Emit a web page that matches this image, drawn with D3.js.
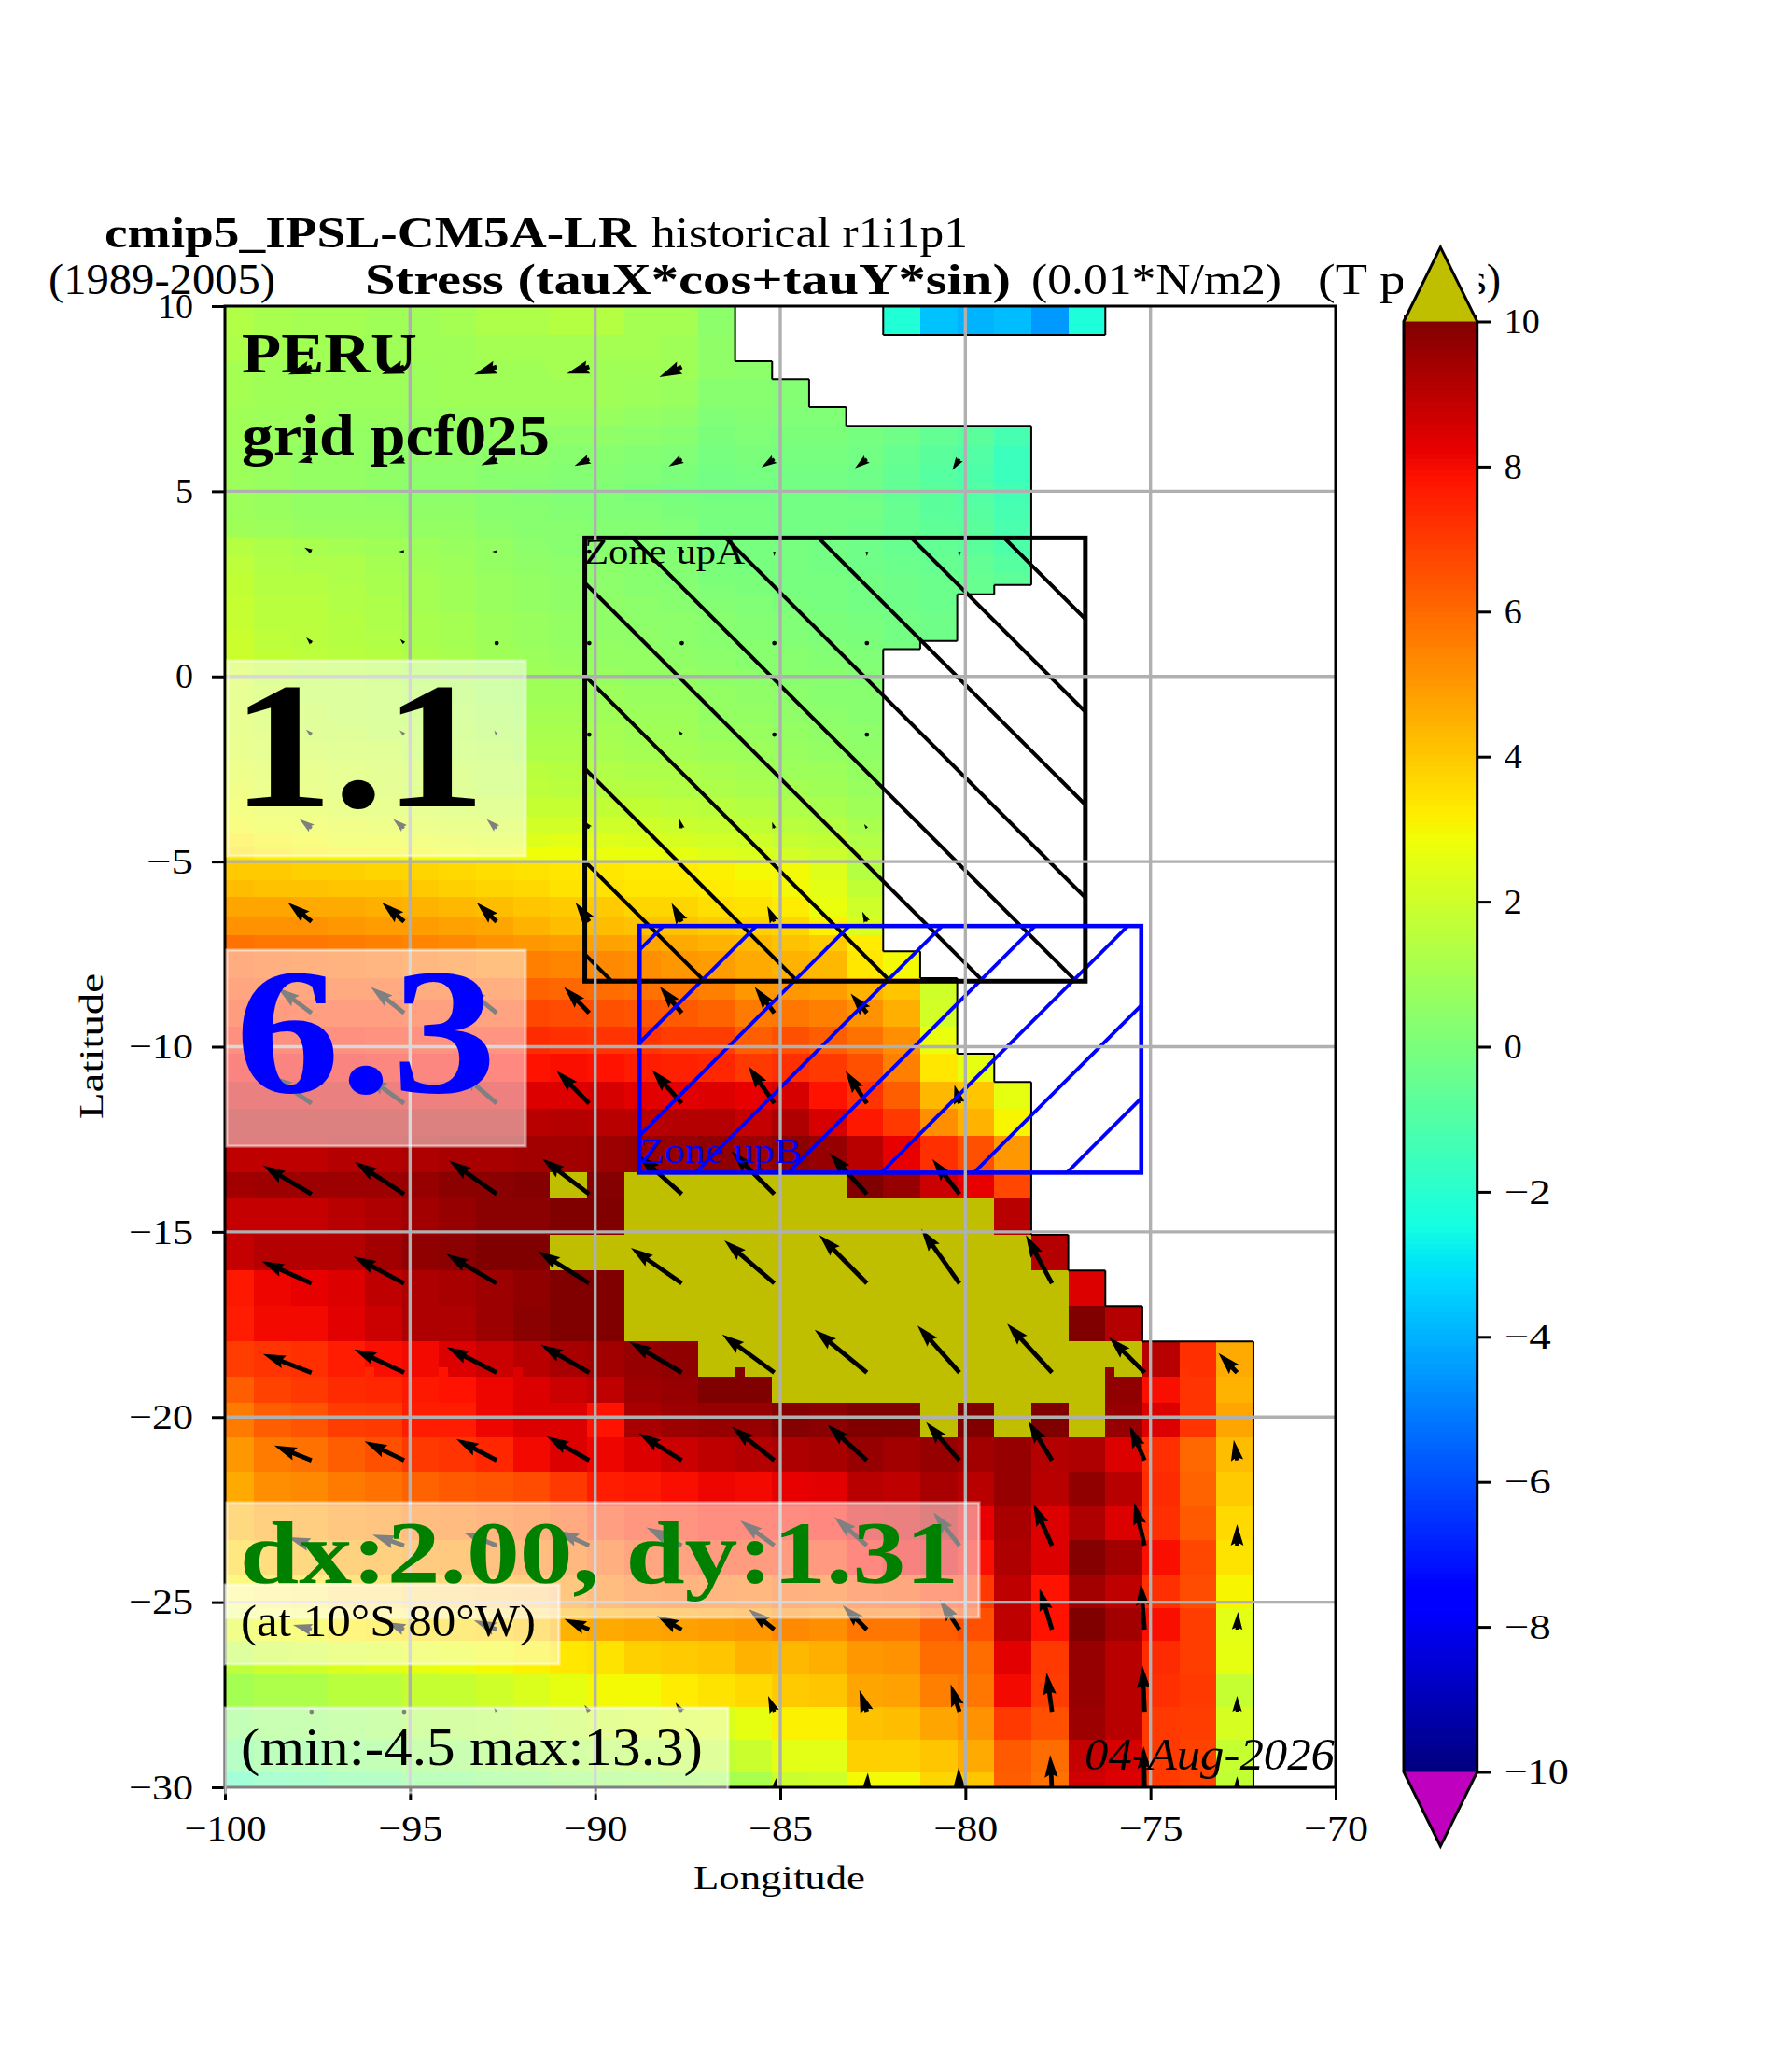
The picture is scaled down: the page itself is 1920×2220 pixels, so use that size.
<!DOCTYPE html>
<html>
<head>
<meta charset="utf-8">
<title>PERU stress map</title>
<script src="https://cdn.jsdelivr.net/npm/d3@7"></script>
<style>
  html, body { margin: 0; padding: 0; background: #fff; }
  svg { display: block; }
  text { font-family: "Liberation Serif", "DejaVu Serif", serif; }
</style>
</head>
<body>
<svg id="chart" width="1920" height="2220"></svg>
<script>
// Cell edges of the model grid
const lonEdges = [-100,-99.22,-98.22,-97.22,-96.22,-95.22,-94.22,-93.22,-92.22,-91.22,-90.22,-89.22,-88.22,-87.22,-86.22,-85.22,-84.22,-83.22,-82.22,-81.22,-80.22,-79.22,-78.22,-77.22,-76.22,-75.22,-74.22,-73.22,-72.22];
const latEdges = [10,9.22,8.51,8.03,7.28,6.77,6.22,5.71,5.21,4.71,4.25,3.75,3.27,2.77,2.47,2.22,1.76,1.25,.96,.74,.24,-.26,-.76,-1.27,-1.77,-2.28,-2.78,-3.28,-3.79,-4.24,-4.62,-5,-5.5,-5.96,-6.49,-7,-7.42,-8.15,-8.73,-9.46,-10.19,-10.95,-11.68,-12.41,-13.39,-14.1,-15.08,-16.04,-17,-17.96,-18.91,-19.62,-20.55,-21.48,-22.42,-23.32,-24.26,-25.17,-26.05,-26.96,-27.84,-28.72,-29.6,-30];

// Stress values, one list per row from north to south, west to east (11 = above the colour range)
const _ = null;
const stressRows = [
[1.3,1.1,1,1,.9,.9,1,1.2,1.2,1.4,1.4,1,1,.4,_,_,_,_,-2.2,-3.7,-4,-3.8,-4.5,-2.3],
[1.2,1,.95,.9,.9,.9,.9,1,1,1,1,1,.9,.5],
[1,.9,.9,.8,.8,.8,.9,.9,.9,1,.9,.9,.9,.5,.4],
[1,.9,.85,.8,.8,.8,.9,.9,.9,.9,.9,.8,.7,.3,.3,.2],
[.9,.8,.8,.7,.7,.7,.7,.7,.7,.7,.7,.6,.5,.1,.2,.1,.1],
[.9,.7,.7,.6,.6,.6,.6,.6,.5,.5,.5,.4,.3,0,.1,0,0,-.1,-.3,-.6,-.8,-1.3],
[.8,.7,.6,.6,.5,.5,.5,.4,.4,.3,.3,.2,.1,-.1,0,-.1,-.1,-.2,-.5,-.8,-1,-1.6],
[.8,.7,.6,.6,.5,.4,.4,.3,.3,.2,.2,.1,0,-.2,-.1,-.2,-.2,-.3,-.6,-.9,-1.1,-1.6],
[.8,.7,.6,.6,.5,.4,.4,.3,.2,.1,.1,0,-.1,-.2,-.2,-.2,-.2,-.3,-.6,-.8,-1,-1.4],
[.8,.7,.6,.6,.6,.5,.5,.3,.3,.2,.1,.1,0,-.1,-.1,-.2,-.2,-.2,-.5,-.8,-.9,-1.3],
[.9,.8,.7,.7,.7,.6,.6,.4,.3,.3,.2,.2,.1,-.1,-.1,-.2,-.2,-.3,-.5,-.7,-.8,-1.2],
[1.4,1.2,1.1,1,.9,.8,.7,.6,.4,.3,.3,.2,.1,-.1,-.1,-.1,-.2,-.3,-.5,-.6,-.8,-1.1],
[1.6,1.3,1.2,1.2,1,.9,.8,.6,.5,.4,.4,.3,.2,0,-.1,-.1,-.2,-.3,-.4,-.5,-.6,-.9],
[1.7,1.4,1.4,1.2,1.1,1,.9,.7,.6,.5,.4,.3,.2,0,0,-.1,-.1,-.2,-.3,-.4,-.5,-.7],
[1.7,1.4,1.4,1.3,1.1,1,.9,.7,.6,.5,.4,.3,.3,.1,0,-.1,-.1,-.2,-.3,-.4,-.5],
[1.8,1.5,1.5,1.3,1.2,1,.9,.7,.6,.5,.5,.4,.3,.2,.1,0,-.1,-.2,-.3,-.4],
[1.8,1.5,1.5,1.4,1.2,1.1,1,.8,.7,.6,.5,.4,.4,.3,.2,.1,0,-.1,-.2,-.3],
[1.9,1.6,1.5,1.4,1.3,1.1,1,.8,.7,.6,.5,.5,.4,.3,.2,.1,0,0,-.2,-.3],
[1.9,1.6,1.5,1.4,1.3,1.1,1,.9,.7,.6,.6,.5,.4,.3,.3,.2,.1,0,-.1],
[1.9,1.7,1.6,1.5,1.4,1.2,1.1,.9,.8,.7,.6,.6,.5,.4,.3,.3,.2,.1],
[2,1.7,1.6,1.5,1.4,1.2,1.1,1,.9,.8,.7,.6,.6,.5,.4,.3,.3,.2],
[2,1.8,1.6,1.6,1.5,1.3,1.2,1,.9,.9,.8,.7,.7,.6,.5,.4,.3,.3],
[2.1,1.8,1.7,1.6,1.5,1.4,1.3,1.1,1,1,.9,.8,.8,.6,.6,.5,.4,.3],
[2.1,1.9,1.7,1.7,1.6,1.5,1.4,1.2,1.1,1.1,1,.9,.9,.7,.7,.6,.5,.4],
[2.2,2,1.9,1.8,1.8,1.6,1.5,1.4,1.2,1.2,1.1,1,1,.9,.8,.7,.6,.5],
[2.4,2.2,2.1,2,1.9,1.8,1.7,1.6,1.5,1.4,1.3,1.2,1.2,1.1,1,.8,.8,.6],
[2.5,2.3,2.2,2,1.9,1.8,1.7,1.6,1.6,1.5,1.4,1.4,1.3,1.2,1.1,1,.9,.7],
[2.7,2.5,2.4,2.2,2.1,2,1.9,1.8,1.8,1.8,1.7,1.7,1.6,1.5,1.4,1.2,1.1,.9],
[2.9,2.7,2.6,2.5,2.4,2.3,2.2,2.1,2.1,2.1,2,2,1.9,1.8,1.7,1.5,1.4,1.1],
[3.2,3,2.9,2.7,2.7,2.6,2.5,2.4,2.4,2.5,2.4,2.3,2.2,2.1,2,1.8,1.7,1.3],
[3.4,3.2,3.1,3,3,2.9,2.8,2.7,2.8,2.8,2.7,2.7,2.6,2.4,2.3,2.1,1.9,1.5],
[3.9,3.9,3.8,3.8,3.7,3.7,3.6,3.5,3.4,3.3,3.3,3.2,3.2,3.1,2.9,2.9,2.4,1.4],
[4.2,4.1,4.1,4,4,3.9,3.8,3.7,3.6,3.4,3.4,3.3,3.3,3.2,3.1,2.9,2.5,1.7],
[4.7,4.7,4.6,4.6,4.5,4.4,4.3,4.2,4,3.9,3.9,3.7,3.7,3.5,3.4,3.2,2.7,2],
[5.1,5.1,5.1,5,4.9,4.9,4.8,4.7,4.4,4.2,4.2,4.1,4.1,3.9,3.8,3.7,3.1,2.3],
[5.8,5.7,5.7,5.6,5.5,5.4,5.3,5.1,5,4.9,4.8,4.7,4.6,4.4,4.3,4.1,3.9,3.2],
[6.3,6.2,6.1,6,5.9,5.8,5.7,5.5,5.5,5.4,5.3,5.2,5,4.9,4.6,4.4,4.3,3.3,2.9],
[6.6,6.5,6.5,6.4,6.4,6.3,6.3,6.2,6.1,6,5.9,5.8,5.7,5.5,5,5,4.9,4.4,4,2],
[7,7,6.9,6.9,6.9,6.8,6.8,6.7,6.7,6.6,6.5,6.4,6.3,6.1,5.6,5.7,5.5,5.1,4.5,2.1],
[7.5,7.5,7.5,7.5,7.4,7.4,7.4,7.3,7.3,7.2,7.1,7.1,6.9,6.9,6.2,6.5,6.2,5.8,5.2,2.7],
[8,8,8,8,7.9,7.9,7.9,7.8,7.8,7.9,7.8,7.6,7.5,7.4,7,7.2,7,6.5,5.5,3.3,2.6],
[8.5,8.5,8.5,8.5,8.4,8.4,8.4,8.4,8.4,8.4,8.5,8.3,8.3,8.4,8.2,8.5,7.8,7.1,6.2,4.3,4,2.6],
[9,9,9,9,9,9,9,9,9,9.1,9,9,9.1,9.1,8.8,9.2,8.5,7.7,7,5.2,4.4,3],
[8.9,8.9,8.9,9.1,9.1,9.2,9.3,9.3,9.4,9.4,9.5,9.6,9.6,9.7,9.5,9.8,9.6,9,8.2,7.2,6.5,5],
[9.4,9.5,9.5,9.5,9.5,9.6,9.8,9.8,9.9,11,9.9,11,11,11,11,11,11,10,9.6,8.7,8.2,6.7],
[8.8,8.8,8.8,9,9.2,9.4,9.6,9.8,9.8,10,10,11,11,11,11,11,11,11,11,11,11,9],
[8.8,9.1,9.1,9.1,9.4,9.7,9.8,10,10,11,11,11,11,11,11,11,11,11,11,11,11,11,9.1],
[7.7,8.1,8.2,8.4,8.9,9.2,9.3,9.5,9.7,10,10,11,11,11,11,11,11,11,11,11,11,11,11,8.4],
[7.6,8,8,8.3,8.7,9.2,9.2,9.5,9.8,10,10,11,11,11,11,11,11,11,11,11,11,11,11,10,9.1],
[6.9,7.1,7.2,7.6,7.9,8,8.4,8.7,9,9.3,9.4,9.6,9.7,11,11,11,11,11,11,11,11,11,11,11,11,9,7.2,4.6],
[6.2,6.8,7,7.3,7.4,7.7,7.8,8.1,8.4,8.7,8.9,9.5,9.6,10,10,11,11,11,11,11,11,11,11,11,9.7,7.9,7.1,4.4],
[5.6,6.2,6.4,6.9,7,7.6,7.6,8.1,8.4,8.4,7.8,9.3,9.5,9.6,9.6,9.9,9.8,10,10,11,10,11,10,11,9.6,8.4,7.1,4.7],
[5,5.6,5.8,6.2,6.5,7,7.1,7.4,8,8.4,8.1,8.4,8.7,8.9,9.1,9.2,9.3,9.6,9.4,9.6,9.4,9.6,9.1,9.2,8.4,7.2,6,4.2],
[4.6,5.2,5.3,5.6,5.8,6.1,6.3,6.4,6.6,7,7.6,7.7,7.9,8.1,8,8.2,8.3,9,8.9,9.3,9,9.6,9,9.7,9,7.3,6.1,3.9],
[4.4,4.8,4.9,5.2,5.3,5.6,5.7,5.9,6.1,6.4,6.9,7.2,7.3,7.6,7.6,7.7,7.8,8.4,8.5,8.9,8.2,9.3,8.4,9.2,8.4,7.2,6.3,3.6],
[3.8,4.2,4.4,4.7,4.8,5,5.1,5.4,5.6,5.8,6.2,6.6,6.7,7,7,7,7.1,7.8,8.1,8.3,7.9,9.2,8.4,9.9,9.4,7.9,6.7,3.4],
[3.1,3.4,3.5,3.9,4,4.3,4.4,4.6,4.8,5.2,5.6,5.9,6,5.9,5.8,6.1,6,6.4,6.5,6.9,7,8.9,7.8,9.4,8.9,7.2,6.6,3],
[2.5,2.8,2.9,3.2,3.3,3.5,3.6,3.8,4,4.4,4.6,4.7,4.8,4.9,5,5.3,5.2,5.7,5.7,6.2,6.5,8.9,7.8,10,9.4,7.9,6.9,2.5],
[1.6,1.9,2,2.3,2.4,2.6,2.7,2.9,3.1,3.3,3.4,3.8,3.9,4,4.4,4.3,4.5,5,5.1,5.9,5.9,8.3,7,9.6,9,7.3,6.9,2.6],
[1,1.2,1.2,1.5,1.5,1.8,1.8,2,2.3,2.6,2.9,2.9,3.2,3.4,3.6,3.9,4,4.7,4.8,5.5,5.7,8,6.9,9.6,9,7.2,7,1.8],
[.3,.5,.5,.7,.8,1.1,1.2,1.3,1.5,1.7,1.9,2,2.2,2.3,2.6,3.1,3.1,4.1,4.2,4.7,5.1,7,6.5,9.5,9,7,6.9,2.2],
[-.3,0,0,.2,.3,.6,.6,.8,1,1.1,1.3,1.4,1.6,1.7,1.9,2.5,2.5,3.8,3.8,4,4.6,6.3,5.9,8.8,8.5,7,6.8,1.8],
[-1.3,-.9,-.8,-.5,-.4,0,0,.2,.3,.5,.6,.7,.9,1,1.1,1.9,2,2.9,2.9,3.7,4,6.2,5.8,8.6,8.4,7,6.8,1.7]
];

// Narrow notches in the row just south of 18.9S
const notchLons = [-96.22,-94.22,-92.22,-86.22,-76.22,-74.22];
const notchVals = [7.4,7.8,8.4,10,9.7,7.1];

// Wind stress arrows: tails on a 2.5 deg by about 2.45 deg grid
const arrowLons = [-97.66,-95.16,-92.66,-90.16,-87.66,-85.16,-82.66,-80.16,-77.66,-75.16,-72.66];
const arrowLats = [8.36,5.87,3.37,.9,-1.57,-4.1,-6.62,-9.09,-11.53,-13.98,-16.39,-18.8,-21.17,-23.47,-25.74,-27.96,-30.1];
const tauU = [
[-2.5,-2.4,-2.4,-2.4,-2.4],
[-1.5,-1.57,-1.67,-1.57,-1.4,-1.38,-1.28,-.76],
[-.77,-.57,-.5,0,0,0,0,0],
[-.57,-.43,0,0,0,0,0],
[-.6,-.5,-.25,-.15,-.4,-.1,.4],
[-1.3,-1.17,-1.07,-.76,-.25,-.25,-.3],
[-2.54,-2.37,-2.14,-1.47,-1.1,-.75,-.5],
[-3.66,-3.57,-3.5,-2.7,-2.37,-2.1,-1.74],
[-4.46,-4.1,-4,-3.5,-3.2,-2.8,-2.3,-.54],
[-5.2,-5.27,-5.1,-5.04,-4.7,-4.6,-4,-2.9],
[-5.36,-5.4,-5.4,-5.5,-5.45,-5.36,-5.1,-4.1,-2.8],
[-5.2,-5.36,-5.36,-5.2,-5.6,-5.6,-5.6,-4.5,-4.8,-3.8,-2],
[-4,-4.24,-4.33,-4.55,-4.6,-4.55,-4.24,-3.57,-2.54,-1.6,-.36],
[-2.54,-3.4,-3.5,-3.5,-3.8,-3.66,-3.5,-2.8,-2,-1.1,0],
[-2,-1.9,-2.45,-2.7,-2.7,-2.77,-2.6,-2.14,-1.34,-.4,.1],
[0,0,-.3,-.5,-.67,-.67,-.8,-.94,-.58,-.22,0],
[0,0,0,0,0,.2,.1,-.1,-.2,-.1,0]
];
const tauV = [
[-.83,-.77,-.83,-.73,-1.1],
[-.37,-.5,-.67,-.73,-.8,-.9,-1,-1.2],
[.43,0,0,0,0,-.5,-.5,-.5],
[.6,.43,0,0,0,0,0],
[.54,.45,.45,.36,.45,.24,0],
[1,1,1,.9,1,.67,.45],
[2.03,2.03,2.03,2.03,2,1.65,1.07],
[2.72,2.8,2.8,2.8,2.87,2.8,2.1],
[3,2.95,3.4,3.5,3.6,4,3.5,2],
[3.06,3.44,3.6,3.8,4.2,4.6,4.4,3.75],
[2.37,2.87,3.14,3.44,3.8,4.6,5.17,5.8,5.17],
[2,2.5,2.75,3,3.3,4.1,4.6,5.05,5.24,3.8,2.1],
[1.58,2.04,2.28,2.56,2.9,3.6,3.83,4.1,4.2,3.7,2.2],
[.88,1.16,1.4,1.58,1.93,2.7,3.06,3.56,4.48,4.6,2.3],
[.5,.8,1,1.16,1.5,2.2,2.6,3.25,4.4,4.97,1.9],
[0,0,.45,.7,.98,1.7,2.3,2.95,4.2,4.94,1.7],
[.05,.05,.1,.1,.1,1.4,1.95,2.5,3.86,4.8,1.57]
];

// Zones: [west, east, north, south]
const zoneA = [-90.28,-76.76,3.74,-8.23];
const zoneB = [-88.8,-75.25,-6.74,-13.4];

const xTicks = [-100,-95,-90,-85,-80,-75,-70];
const yTicks = [10,5,0,-5,-10,-15,-20,-25,-30];
const cbTicks = [10,8,6,4,2,0,-2,-4,-6,-8,-10];

// Matplotlib jet, with its over and under colours
const jetR = d3.scaleLinear().domain([0,.35,.66,.89,1]).range([0,0,1,1,.5]);
const jetG = d3.scaleLinear().domain([0,.125,.375,.64,.91,1]).range([0,0,1,1,0,0]);
const jetB = d3.scaleLinear().domain([0,.11,.34,.65,1]).range([.5,1,1,0,0]);
function jet(v) {
    if (v > 10) return '#bfbf00';
    if (v < -10) return '#bf00bf';
    const t = (v + 10) / 20;
    return `rgb(${Math.round(255*jetR(t))},${Math.round(255*jetG(t))},${Math.round(255*jetB(t))})`;
}

const svg = d3.select('#chart');
const x = d3.scaleLinear().domain([-100,-70]).range([241,1431]);
const y = d3.scaleLinear().domain([-30,10]).range([1915,328]);
const cbY = d3.scaleLinear().domain([-10,10]).range([1898.5,344.5]);
const arrowScale = d3.scaleLinear().domain([0,1]).range([0,10]);

const defs = svg.append('defs');
function addClip(id, x0, y0, w, h) {
    defs.append('clipPath').attr('id', id).append('rect')
        .attr('x', x0).attr('y', y0).attr('width', w).attr('height', h);
}
addClip('plot-clip', x(-100), y(10), x(-70) - x(-100), y(-30) - y(10));
addClip('zoneA-clip', x(zoneA[0]), y(zoneA[2]), x(zoneA[1]) - x(zoneA[0]), y(zoneA[3]) - y(zoneA[2]));
addClip('zoneB-clip', x(zoneB[0]), y(zoneB[2]), x(zoneB[1]) - x(zoneB[0]), y(zoneB[3]) - y(zoneB[2]));

// Data cells
const cells = [];
stressRows.forEach((row, r) => row.forEach((v, c) => {
    if (v !== null) cells.push({ r, c, v });
}));
const plot = svg.append('g').attr('clip-path', 'url(#plot-clip)');
plot.append('g').selectAll('rect').data(cells).join('rect')
    .attr('x', d => x(lonEdges[d.c]))
    .attr('y', d => y(latEdges[d.r]))
    .attr('width', d => x(lonEdges[d.c + 1]) - x(lonEdges[d.c]))
    .attr('height', d => y(latEdges[d.r + 1]) - y(latEdges[d.r]))
    .attr('fill', d => jet(d.v))
    .attr('shape-rendering', 'crispEdges');

plot.append('g').selectAll('rect').data(notchLons).join('rect')
    .attr('x', d => x(d))
    .attr('y', y(-18.66))
    .attr('width', x(-99.75) - x(-100))
    .attr('height', y(-18.91) - y(-18.66))
    .attr('fill', (d, i) => jet(notchVals[i]))
    .attr('shape-rendering', 'crispEdges');

// Coast outline: every cell side that touches a masked neighbour
function isSea(r, c) {
    return r >= 0 && r < stressRows.length && c >= 0 && stressRows[r][c] !== undefined && stressRows[r][c] !== null;
}
let coast = '';
cells.forEach(d => {
    const x0 = x(lonEdges[d.c]), x1 = x(lonEdges[d.c + 1]);
    const y0 = y(latEdges[d.r]), y1 = y(latEdges[d.r + 1]);
    if (d.r > 0 && !isSea(d.r - 1, d.c)) coast += `M${x0},${y0}H${x1}`;
    if (d.r < stressRows.length - 1 && !isSea(d.r + 1, d.c)) coast += `M${x0},${y1}H${x1}`;
    if (d.c > 0 && !isSea(d.r, d.c - 1)) coast += `M${x0},${y0}V${y1}`;
    if (!isSea(d.r, d.c + 1)) coast += `M${x1},${y0}V${y1}`;
});
plot.append('path').attr('d', coast).attr('fill', 'none').attr('stroke', '#000').attr('stroke-width', 2);

// Quiver: same shape rules as matplotlib (head 5 widths long, shrink short arrows, dot when tiny)
const shaftW = 4.8;
function arrowPath(L) {
    const w = shaftW;
    const s = L < 5 * w ? L / (5 * w) : 1;
    const tip = L;
    const pts = [
        [0, -w / 2 * s],
        [tip - 4.5 * w * s, -w / 2 * s],
        [tip - 5 * w * s, -1.5 * w * s],
        [tip, 0],
        [tip - 5 * w * s, 1.5 * w * s],
        [tip - 4.5 * w * s, w / 2 * s],
        [0, w / 2 * s]
    ];
    return 'M' + pts.map(p => p.join(',')).join('L') + 'Z';
}
const arrows = [];
arrowLats.forEach((lat, r) => tauU[r].forEach((u, j) => {
    arrows.push({ lon: arrowLons[j], lat, u: arrowScale(u), v: arrowScale(tauV[r][j]) });
}));
const quiver = plot.append('g');
arrows.forEach(a => {
    const L = Math.hypot(a.u, a.v);
    if (L < shaftW) {
        quiver.append('circle').attr('cx', x(a.lon)).attr('cy', y(a.lat)).attr('r', shaftW / 2).attr('fill', '#000');
    } else {
        const ang = Math.atan2(-a.v, a.u) * 180 / Math.PI;
        quiver.append('path').attr('d', arrowPath(L))
            .attr('transform', `translate(${x(a.lon)},${y(a.lat)}) rotate(${ang})`)
            .attr('fill', '#000');
    }
});

// Zones, with hatching
const hatchN = d3.range(-15, 16);
svg.append('g').attr('clip-path', 'url(#zoneA-clip)').selectAll('line').data(hatchN).join('line')
    .attr('x1', n => 499.6 + 99.5 * n + 500).attr('y1', 500)
    .attr('x2', n => 499.6 + 99.5 * n + 1100).attr('y2', 1100)
    .attr('stroke', '#000').attr('stroke-width', 4);
svg.append('g').attr('clip-path', 'url(#zoneB-clip)').selectAll('line').data(hatchN).join('line')
    .attr('x1', n => 2200.5 + 99.5 * n - 900).attr('y1', 900)
    .attr('x2', n => 2200.5 + 99.5 * n - 1300).attr('y2', 1300)
    .attr('stroke', '#00f').attr('stroke-width', 3.8);
[[zoneA, '#000', 5], [zoneB, '#00f', 4.6]].forEach(([z, col, lw]) => {
    svg.append('rect')
        .attr('x', x(z[0])).attr('y', y(z[2]))
        .attr('width', x(z[1]) - x(z[0])).attr('height', y(z[3]) - y(z[2]))
        .attr('fill', 'none').attr('stroke', col).attr('stroke-width', lw);
});

// Grid on top of the data
const grid = svg.append('g').attr('stroke', '#b0b0b0').attr('stroke-width', 3.4);
grid.selectAll('.gx').data(xTicks.slice(1, -1)).join('line').attr('class', 'gx')
    .attr('x1', d => x(d)).attr('x2', d => x(d)).attr('y1', y(10)).attr('y2', y(-30));
grid.selectAll('.gy').data(yTicks.slice(1, -1)).join('line').attr('class', 'gy')
    .attr('y1', d => y(d)).attr('y2', d => y(d)).attr('x1', x(-100)).attr('x2', x(-70));

// Axes
const fmt = d => d < 0 ? '\u2212' + Math.abs(d) : String(d);
function labelWidth(d) { return String(Math.abs(d)).length * 19 + (d < 0 ? 31 : 0); }
function styleAxis(g) {
    g.select('.domain').remove();
    g.selectAll('.tick line').attr('stroke', '#000').attr('stroke-width', 3);
    g.selectAll('.tick text')
        .attr('font-size', 38).attr('fill', '#000')
        .attr('font-family', '"Liberation Serif", serif')
        .attr('textLength', d => labelWidth(d))
        .attr('lengthAdjust', 'spacingAndGlyphs');
}
svg.append('g').attr('transform', `translate(${x(-100)},0)`)
    .call(d3.axisLeft(y).tickValues(yTicks).tickFormat(fmt).tickSize(14).tickPadding(20))
    .call(styleAxis);
svg.append('g').attr('transform', `translate(0,${y(-30)})`)
    .call(d3.axisBottom(x).tickValues(xTicks).tickFormat(fmt).tickSize(14).tickPadding(16))
    .call(styleAxis);
svg.append('rect').attr('x', x(-100)).attr('y', y(10))
    .attr('width', x(-70) - x(-100)).attr('height', y(-30) - y(10))
    .attr('fill', 'none').attr('stroke', '#000').attr('stroke-width', 3);

// Text helper, width is forced to the measured span of the original lettering
function label(px, py, str, size, opts = {}) {
    const t = svg.append('text').attr('x', px).attr('y', py).text(str)
        .attr('font-size', size)
        .attr('fill', opts.fill || '#000')
        .attr('font-weight', opts.bold ? 'bold' : 'normal')
        .attr('font-style', opts.italic ? 'italic' : 'normal')
        .attr('text-anchor', opts.anchor || 'start');
    if (opts.width) t.attr('textLength', opts.width).attr('lengthAdjust', 'spacingAndGlyphs');
    return t;
}
function box(x0, x1, y0, y1) {
    svg.append('rect').attr('x', x0).attr('y', y0).attr('width', x1 - x0).attr('height', y1 - y0)
        .attr('fill', '#fff').attr('fill-opacity', .5)
        .attr('stroke', '#fff').attr('stroke-opacity', .5).attr('stroke-width', 3);
}

// Titles
label(112, 265, 'cmip5_IPSL-CM5A-LR', 46, { bold: true, width: 569 });
label(698, 265, 'historical r1i1p1', 46, { width: 339 });
label(52, 315, '(1989-2005)', 46, { width: 243 });
label(391, 315, 'Stress (tauX*cos+tauY*sin)', 46, { bold: true, width: 692 });
label(1105, 315, '(0.01*N/m2)', 46, { width: 268 });
label(1412, 315, '(T p', 46, { width: 94 });
label(1608, 315, 's)', 46, { anchor: 'end' });

// Zone labels and in-plot annotations
label(626, 604, 'Zone upA', 38, { width: 172 });
label(685, 1246, 'Zone upB', 38, { width: 174, fill: '#00f' });
label(259, 399, 'PERU', 61, { bold: true, width: 188 });
label(259, 487, 'grid pcf025', 61, { bold: true, width: 330 });

box(244, 563, 708, 917);
label(248, 864, '1.1', 192, { bold: true, width: 272 });
box(243, 563, 1018, 1228);
label(252, 1170, '6.3', 192, { bold: true, width: 280, fill: '#00f' });
box(243, 1049, 1610, 1733);
label(257, 1696, 'dx:2.00, dy:1.31', 96, { bold: true, width: 770, fill: '#008000' });
box(241, 599, 1698, 1783);
label(258, 1753, '(at 10\u00b0S 80\u00b0W)', 49, { width: 316 });
box(241, 780, 1830, 1921);
label(258, 1891, '(min:-4.5 max:13.3)', 56, { width: 495 });
label(1162, 1896, '04-Aug-2026', 48, { italic: true, width: 268 });

svg.append('text').attr('x', 835).attr('y', 2024).attr('text-anchor', 'middle')
    .attr('font-size', 36).attr('textLength', 184).attr('lengthAdjust', 'spacingAndGlyphs').text('Longitude');
svg.append('text').attr('transform', 'translate(110,1121) rotate(-90)').attr('text-anchor', 'middle')
    .attr('font-size', 36).attr('textLength', 156).attr('lengthAdjust', 'spacingAndGlyphs').text('Latitude');

// Colour bar, white panel first so the end of the title disappears behind it
const cbX0 = 1504, cbX1 = 1582.7, cbMid = (cbX0 + cbX1) / 2;
const cbExt = (cbY(-10) - cbY(10)) * .0512;
svg.append('rect').attr('x', cbX0 - 1).attr('y', 250).attr('width', cbX1 - cbX0 + 3).attr('height', 100).attr('fill', '#fff');
const cbSteps = d3.range(0, 256).map(i => -10 + 20 * i / 255);
svg.append('g').selectAll('rect').data(cbSteps).join('rect')
    .attr('x', cbX0).attr('width', cbX1 - cbX0)
    .attr('y', d => cbY(d) - (cbY(-10) - cbY(10)) / 255)
    .attr('height', (cbY(-10) - cbY(10)) / 255 + 1)
    .attr('fill', d => jet(d))
    .attr('shape-rendering', 'crispEdges');
svg.append('path').attr('d', `M${cbX0},${cbY(10)}L${cbMid},${cbY(10) - cbExt}L${cbX1},${cbY(10)}Z`).attr('fill', jet(11));
svg.append('path').attr('d', `M${cbX0},${cbY(-10)}L${cbMid},${cbY(-10) + cbExt}L${cbX1},${cbY(-10)}Z`).attr('fill', jet(-11));
svg.append('path')
    .attr('d', `M${cbX0},${cbY(10)}L${cbMid},${cbY(10) - cbExt}L${cbX1},${cbY(10)}V${cbY(-10)}L${cbMid},${cbY(-10) + cbExt}L${cbX0},${cbY(-10)}Z`)
    .attr('fill', 'none').attr('stroke', '#000').attr('stroke-width', 3);
svg.append('g').attr('transform', `translate(${cbX1},0)`)
    .call(d3.axisRight(cbY).tickValues(cbTicks).tickFormat(fmt).tickSize(15).tickPadding(14))
    .call(styleAxis);
</script>
</body>
</html>
